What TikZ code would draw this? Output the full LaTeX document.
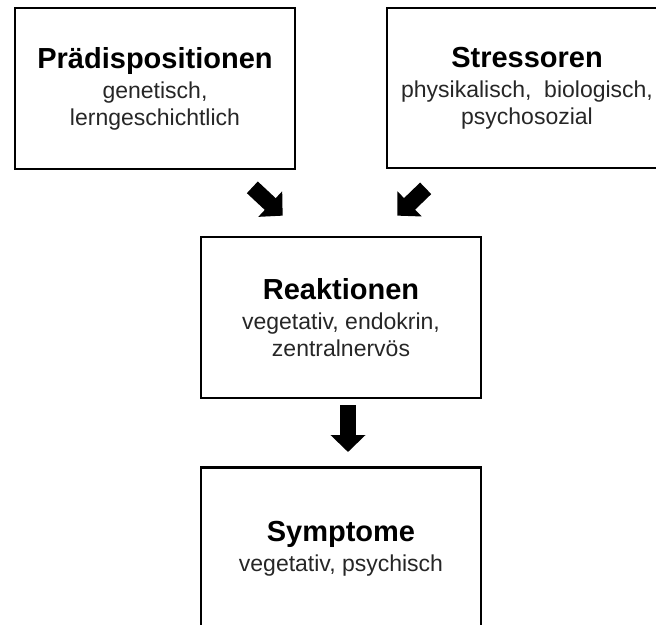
\documentclass[tikz,border=0pt]{standalone}
\usepackage{fontspec}
\setmainfont{Liberation Sans}
\usetikzlibrary{positioning,arrows.meta,calc}
\tikzstyle{block} = [draw, line width=2pt, rectangle, minimum width=210pt, minimum height=120.75pt, align=center, inner sep=0pt, text=black!85, font=\fontsize{17.25}{20.25}\selectfont]
\tikzstyle{fatarrow} = [line width=12pt, -{Triangle[width=25.5pt,length=12.75pt]}]
\newcommand{\kopf}[1]{{\fontsize{21.75}{22.5}\selectfont\bfseries\color{black}#1}}

\begin{document}
\begin{tikzpicture}[x=0.75pt, y=-0.75pt]
		\useasboundingbox (0,0) rectangle (656,624);
		\clip (0,0) rectangle (656,624);
		\node (reak) [block] at (341,317.5) {\kopf{Reaktionen}\\[2.25pt]vegetativ, endokrin,\\zentralnervös};
		\node (symp) [block, minimum height=121.5pt, below=50pt of reak] {\kopf{Symptome}\\[2.25pt]vegetativ, psychisch};
		\node (prae) [block] at (155,88.5) {\kopf{Prädispositionen}\\[2.25pt]genetisch,\\lerngeschichtlich};
		\node (stress) [block, minimum height=120pt] at (527,88) {\kopf{Stressoren}\\[2.25pt]physikalisch,\ \ biologisch,\\psychosozial};
		
		\draw [fatarrow] ($(prae.south east)+(-44,17)$) -- ($(reak.north west)+(83,-20)$);
		\draw [fatarrow] ($(stress.south west)+(40,19)$) -- ($(reak.north east)+(-85,-20)$);
		\draw [fatarrow] ($(reak.south)+(7,6)$) -- ($(symp.north)+(7,-14)$);
	\end{tikzpicture}
\end{document}
